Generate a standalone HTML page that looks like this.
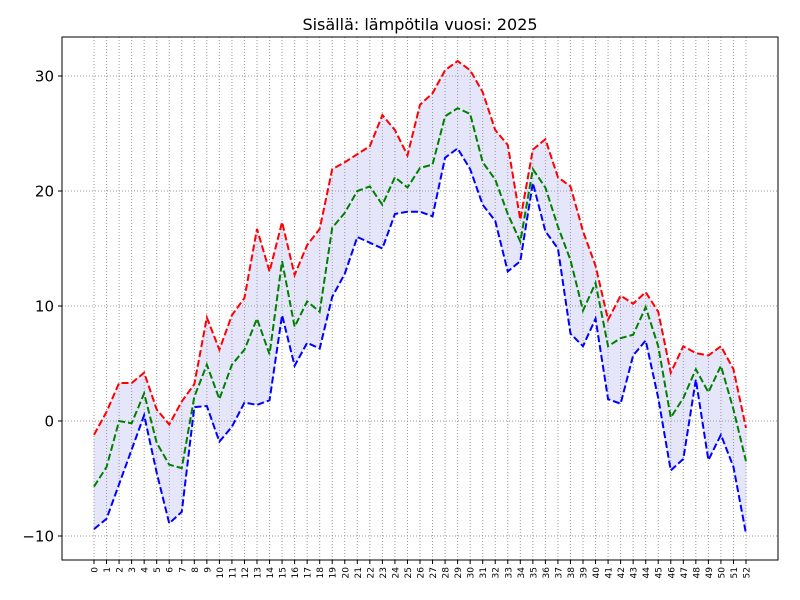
<!DOCTYPE html>
<html><head><meta charset="utf-8"><style>body{margin:0;background:#fff}svg{display:block}</style></head>
<body>
<svg id="s" width="800" height="600" xmlns="http://www.w3.org/2000/svg" font-family="'DejaVu Sans','Liberation Sans',sans-serif"></svg>
<script>
const R=[-1.2,0.8,3.3,3.3,4.2,1,-0.3,1.7,3.2,9,6.2,9.2,10.7,16.7,13,17.3,12.7,15.3,16.7,21.9,22.5,23.2,23.9,26.6,25.3,23.1,27.5,28.5,30.5,31.3,30.5,28.6,25.3,24,17.5,23.6,24.5,21.2,20.4,16.5,13.5,8.8,10.9,10.2,11.2,9.5,4.2,6.5,5.9,5.7,6.5,4.5,-0.6];
const G=[-5.7,-4,0,-0.2,2.4,-1.9,-3.8,-4.1,2.1,4.9,1.9,4.9,6.2,8.9,5.8,13.9,8.2,10.4,9.5,16.8,18.1,20,20.4,18.8,21.2,20.3,22,22.3,26.5,27.2,26.7,22.5,21,18,15.6,21.9,20.3,16.9,14,9.6,12,6.5,7.2,7.5,9.9,6.5,0.3,2,4.5,2.5,4.8,1,-3.5];
const B=[-9.4,-8.5,-5.5,-2.5,0.5,-4.5,-8.9,-7.9,1.2,1.3,-1.8,-0.5,1.6,1.4,1.8,9.2,4.8,6.8,6.3,10.8,12.8,16,15.5,15,18,18.2,18.2,17.8,22.9,23.7,21.9,18.8,17.4,13,13.9,20.7,16.5,15,7.6,6.5,8.9,1.9,1.5,5.7,7,2,-4.3,-3.3,3.6,-3.4,-1.2,-4,-9.8];
const X=i=>94+i*(746-94)/52, Y=v=>421-v*11.5;
let h='';
const L=62,T=37,Rr=778,Bt=560;
h+=`<text x="420" y="30" font-size="16" text-anchor="middle">Sisällä: lämpötila vuosi: 2025</text>`;
let poly=R.map((v,i)=>`${X(i)},${Y(v)}`).concat(B.map((v,i)=>`${X(i)},${Y(v)}`).reverse()).join(' ');
h+=`<polygon points="${poly}" fill="#e6e6fa" stroke="#d8d8f4" stroke-width="0.5"/>`;
for(let i=0;i<=52;i++){const x=X(i);h+=`<line x1="${x}" y1="${T}" x2="${x}" y2="${Bt}" stroke="#999" stroke-width="1" stroke-dasharray="1,2"/>`;
h+=`<line x1="${x}" y1="${Bt}" x2="${x}" y2="${Bt+4}" stroke="#000"/>`;
h+=`<text transform="translate(${x+3.5},${Bt+7}) rotate(-90)" font-size="9" text-anchor="end">${i}</text>`;}
for(const v of [-10,0,10,20,30]){const y=Y(v);h+=`<line x1="${L}" y1="${y}" x2="${Rr}" y2="${y}" stroke="#999" stroke-width="1" stroke-dasharray="1,2"/>`;
h+=`<line x1="${L-4}" y1="${y}" x2="${L}" y2="${y}" stroke="#000"/>`;
h+=`<text x="${L-8}" y="${y+5.5}" font-size="15" text-anchor="end">${v<0?'−'+(-v):v}</text>`;}
const line=(a,c)=>`<polyline points="${a.map((v,i)=>`${X(i)},${Y(v)}`).join(' ')}" fill="none" stroke="${c}" stroke-width="2" stroke-dasharray="7,3"/>`;
h+=line(R,'#ff0000')+line(G,'#008000')+line(B,'#0000ff');
h+=`<rect x="${L}" y="${T}" width="${Rr-L}" height="${Bt-T}" fill="none" stroke="#000" stroke-width="1"/>`;
document.getElementById('s').innerHTML=h;
</script>
</body></html>
